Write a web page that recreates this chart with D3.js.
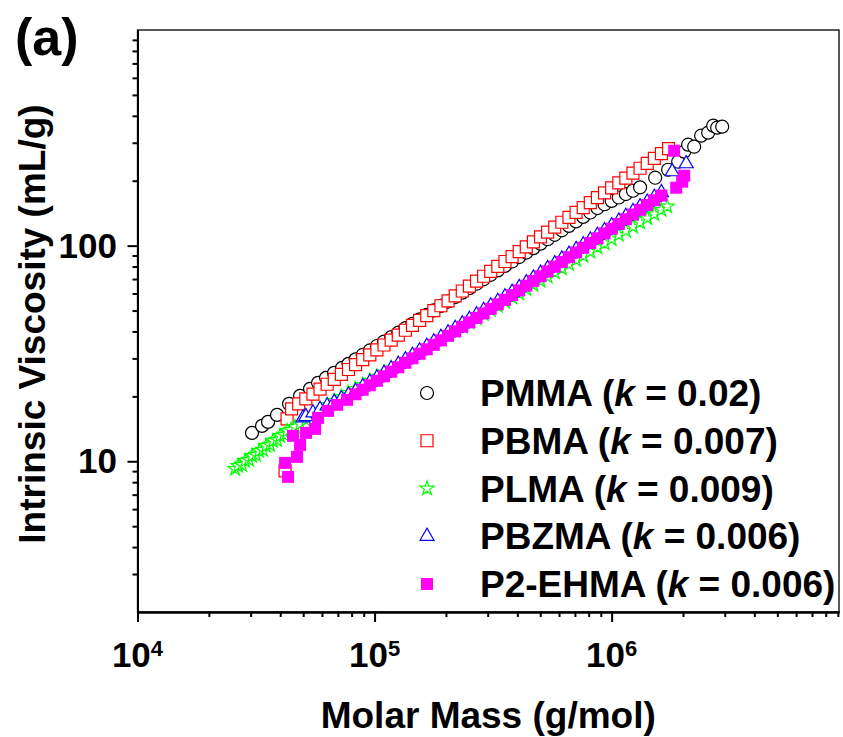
<!DOCTYPE html>
<html>
<head>
<meta charset="utf-8">
<script src="https://cdn.jsdelivr.net/npm/d3@7"></script>
<style>
  body { margin: 0; background: #fff; }
  text { font-family: "Liberation Sans", Arial, sans-serif; font-weight: bold; fill: #000; }
</style>
</head>
<body>
<div id="chart"></div>
<script>
// Mark-Houwink plot, intrinsic viscosity vs molar mass (log-log)

// molar masses shared by the middle part of the runs (g/mol)
const gridMass = [44670, 47860, 51290, 54950, 58880, 63100, 67610, 72440, 77620, 83180,
    89130, 95500, 102300, 109600, 117500, 125900, 134900, 144500, 154900, 166000,
    177800, 190500, 204200, 218800, 234400, 251200, 269200, 288400, 309000, 331100,
    354800, 380200, 407400, 436500, 467700, 501200, 537000, 575400, 616600, 660700,
    707900, 758600, 812800, 871000, 933300, 1000000, 1072000, 1148000, 1230000, 1318000,
    1413000, 1514000, 1622000, 1738000];

const pmmaMass = [30410, 33530, 35530, 38780, 43570, 48500, 53430, 57760, 62420, 67470, 72950,
    ...gridMass.slice(8, 50),
    1526000, 1731000, 1908000, 2023000, 2102000, 2229000, 2385000, 2554000, 2681000, 2787000, 2926000];
const pmmaEta = [13.54, 14.59, 15.23, 16.41, 18.46, 20.11, 21.67, 23.10, 24.37, 25.70, 27.13,
    28.31, 29.69, 31.13, 32.65, 34.24, 35.91, 37.65, 39.49, 41.41, 43.42, 45.53, 47.75, 50.07, 52.51,
    55.06, 57.74, 60.55, 63.50, 66.59, 69.83, 73.22, 76.79, 80.53, 84.45, 88.55, 92.87, 97.38, 102.1,
    107.1, 112.3, 117.8, 123.5, 129.5, 135.9, 142.5, 149.4, 155.6, 161.3, 167.2, 173.4, 179.7, 186.4,
    206.5, 224.9, 245.0, 272.7, 293.9, 287.6, 323.6, 334.1, 360.0, 352.4, 356.2];

const pbmaMass = [41930, 42750, ...gridMass.slice(0, 54)];
const pbmaEta = [9.02, 15.73,
    17.51, 18.46, 19.45, 20.50, 21.60, 22.76, 23.98, 25.27, 26.64, 28.07, 29.58, 31.17, 32.85, 34.62,
    36.48, 38.44, 40.51, 42.69, 44.99, 47.41, 49.96, 52.64, 55.48, 58.48, 61.62, 64.94, 68.44, 72.11,
    75.99, 80.09, 84.40, 88.94, 93.73, 98.77, 104.1, 109.7, 115.6, 121.8, 128.4, 135.3, 142.6, 150.2,
    158.3, 166.9, 175.8, 185.3, 195.3, 205.8, 216.8, 228.5, 240.8, 253.7, 267.4, 281.8];

const plmaMass = [25790, 26550, 27600, 28420, 29540, 30410, 31620, 32560, 33840, 34840, 36230,
    37300, 38780, 39930, 41510, 42740, 44420, 46190, 48500, 51400, 55020, 58880, 63040, 67470,
    72230, 77290, 82740, ...gridMass.slice(10, 53), 1715000];
const plmaEta = [9.22, 9.52, 9.62, 10.04, 10.15, 10.59, 10.70, 11.17, 11.29, 11.78, 11.91, 12.43,
    12.57, 13.12, 13.26, 13.83, 13.98, 14.44, 14.91, 15.56, 16.41, 17.31, 18.26, 19.06, 19.89, 20.76,
    21.67, 22.59, 23.62, 24.69, 25.81, 26.99, 28.22, 29.50, 30.84, 32.25, 33.71, 35.25, 36.85, 38.53,
    40.28, 42.11, 44.03, 46.03, 48.13, 50.31, 52.60, 55.00, 57.50, 60.12, 62.86, 65.71, 68.71, 71.83,
    75.10, 78.52, 82.09, 85.82, 89.72, 93.82, 98.08, 102.5, 107.2, 112.1, 117.2, 122.5, 128.1, 134.0,
    140.0, 146.4, 152.0];

const pbzmaMass = [49930, ...gridMass.slice(2, 53), 1800000, 2063000];
const pbzmaEta = [15.89, 16.13, 16.76, 17.40, 18.08, 18.78, 19.50, 20.26, 21.11, 22.16, 23.24, 24.38,
    25.59, 26.85, 28.17, 29.55, 31.00, 32.53, 34.12, 35.80, 37.56, 39.41, 41.35, 43.39, 45.51, 47.76,
    50.09, 52.57, 55.15, 57.86, 60.83, 63.98, 67.33, 70.82, 74.50, 78.37, 82.45, 86.74, 91.24, 95.99,
    101.0, 106.2, 111.7, 117.5, 123.7, 130.1, 136.8, 143.9, 151.4, 159.3, 167.6, 176.3, 220.2, 239.9];

const pehmaMass = [43150, 41930, 47100, 48500, 45310, 51400, 56100, 57760, 63650, 69470, 76560,
    ...gridMass.slice(9, 53), 1872000, 1984000, 2023000, 1835000];
const pehmaEta = [8.46, 9.83, 10.48, 11.91, 13.12, 13.54, 14.13, 15.89, 17.13, 18.26, 19.27,
    20.45, 21.46, 22.51, 23.62, 24.79, 26.01, 27.28, 28.63, 30.03, 31.51, 33.06, 34.68, 36.39, 38.18,
    40.05, 42.03, 44.09, 46.26, 48.53, 50.92, 53.42, 56.05, 58.93, 61.98, 65.22, 68.60, 72.17, 75.92,
    79.87, 84.02, 88.38, 92.99, 97.81, 102.9, 108.2, 113.9, 119.8, 126.0, 132.5, 139.4, 146.6, 154.3,
    162.3, 170.8, 185.6, 197.9, 211.0, 275.5];

const seriesNames = ['PMMA', 'PBMA', 'PLMA', 'PBZMA', 'P2-EHMA'];
const seriesK = ['0.02', '0.007', '0.009', '0.006', '0.006'];
const xMajor = [1e4, 1e5, 1e6];
const xMajorExp = ['4', '5', '6'];
const yMajor = [10, 100];

function drawChart() {
    const width = 843, height = 737;
    const plot = { left: 137.5, top: 30, right: 839, bottom: 612 };

    const svg = d3.select('#chart').append('svg')
        .attr('width', width)
        .attr('height', height);

    const x = d3.scaleLog().domain([1e4, 9.1e6]).range([plot.left, plot.right]);
    const y = d3.scaleLog().domain([2, 1000]).range([plot.bottom, plot.top]);

    // thin frame (top / right)
    svg.append('rect')
        .attr('x', plot.left).attr('y', plot.top)
        .attr('width', plot.right - plot.left).attr('height', plot.bottom - plot.top)
        .attr('fill', 'none').attr('stroke', '#000').attr('stroke-width', 1.3);

    const xMinor = x.ticks().filter(v => !xMajor.includes(v));
    const yMinor = y.ticks().filter(v => !yMajor.includes(v) && v < 1000 && v > 2);

    const styleAxis = g => {
        g.selectAll('path.domain').attr('stroke', '#000').attr('stroke-width', 2);
        g.selectAll('.tick line').attr('stroke', '#000').attr('stroke-width', 2);
        g.selectAll('.tick text').remove();
    };

    svg.append('g').attr('transform', `translate(0,${plot.bottom})`)
        .call(d3.axisBottom(x).tickValues(xMinor).tickSize(5).tickSizeOuter(0).tickFormat(''))
        .call(styleAxis);
    svg.append('g').attr('transform', `translate(0,${plot.bottom})`)
        .call(d3.axisBottom(x).tickValues(xMajor).tickSize(10).tickSizeOuter(0).tickFormat(''))
        .call(styleAxis);
    svg.append('g').attr('transform', `translate(${plot.left},0)`)
        .call(d3.axisLeft(y).tickValues(yMinor).tickSize(5).tickSizeOuter(0).tickFormat(''))
        .call(styleAxis);
    svg.append('g').attr('transform', `translate(${plot.left},0)`)
        .call(d3.axisLeft(y).tickValues(yMajor).tickSize(10).tickSizeOuter(0).tickFormat(''))
        .call(styleAxis);

    // x tick labels with superscript exponents
    const xl = svg.selectAll('.xlab').data(xMajor).enter().append('text')
        .attr('class', 'xlab')
        .attr('x', d => x(d))
        .attr('y', 667)
        .attr('text-anchor', 'middle')
        .attr('font-size', '35px');
    xl.append('tspan').text('10');
    xl.append('tspan').attr('dy', -11).attr('font-size', '22px').text((d, i) => xMajorExp[i]);

    svg.selectAll('.ylab').data(yMajor).enter().append('text')
        .attr('class', 'ylab')
        .attr('x', 117)
        .attr('y', d => y(d) + 12)
        .attr('text-anchor', 'end')
        .attr('font-size', '35px')
        .text(d => d);

    // axis titles
    svg.append('text')
        .attr('x', (plot.left + plot.right) / 2)
        .attr('y', 728)
        .attr('text-anchor', 'middle')
        .attr('font-size', '37px')
        .text('Molar Mass (g/mol)');

    svg.append('text')
        .attr('transform', 'translate(45,324) rotate(-90)')
        .attr('text-anchor', 'middle')
        .attr('font-size', '37px')
        .text('Intrinsic Viscosity (mL/g)');

    svg.append('text')
        .attr('x', 15).attr('y', 55)
        .attr('font-size', '52px')
        .text('(a)');

    // series styles
    const series = [
        { mass: pmmaMass, eta: pmmaEta, type: d3.symbolCircle, size: 133, stroke: '#000000', fill: '#fff' },
        { mass: pbmaMass, eta: pbmaEta, type: d3.symbolSquare, size: 144, stroke: '#FF0000', fill: '#fff' },
        { mass: plmaMass, eta: plmaEta, type: d3.symbolStar, size: 63, stroke: '#00FF00', fill: '#fff' },
        { mass: pbzmaMass, eta: pbzmaEta, type: d3.symbolTriangle, size: 85, stroke: '#0000FF', fill: '#fff' },
        { mass: pehmaMass, eta: pehmaEta, type: d3.symbolSquare, size: 144, stroke: 'none', fill: '#FF00FF' }
    ];

    series.forEach((s, si) => {
        const pts = s.mass.map((m, i) => ({ m: m, v: s.eta[i] }));
        svg.append('g').attr('class', 'series-' + si)
            .selectAll('path').data(pts).enter().append('path')
            .attr('transform', d => `translate(${x(d.m)},${y(d.v)})`)
            .attr('d', d3.symbol().type(s.type).size(s.size))
            .attr('fill', s.fill)
            .attr('stroke', s.stroke)
            .attr('stroke-width', 1.2);
    });

    // legend
    const legend = svg.append('g').attr('class', 'legend');
    const rows = legend.selectAll('g').data(series).enter().append('g')
        .attr('transform', (d, i) => `translate(427,${393 + i * 47.75})`);
    rows.append('path')
        .attr('d', d => d3.symbol().type(d.type).size(d.size)())
        .attr('fill', d => d.fill)
        .attr('stroke', d => d.stroke)
        .attr('stroke-width', 1.2);
    const lt = rows.append('text')
        .attr('x', 53)
        .attr('y', 13)
        .attr('font-size', '37px');
    lt.append('tspan').text((d, i) => seriesNames[i] + ' (');
    lt.append('tspan').attr('font-style', 'italic').text('k');
    lt.append('tspan').text((d, i) => ' = ' + seriesK[i] + ')');
}

drawChart();
</script>
</body>
</html>
